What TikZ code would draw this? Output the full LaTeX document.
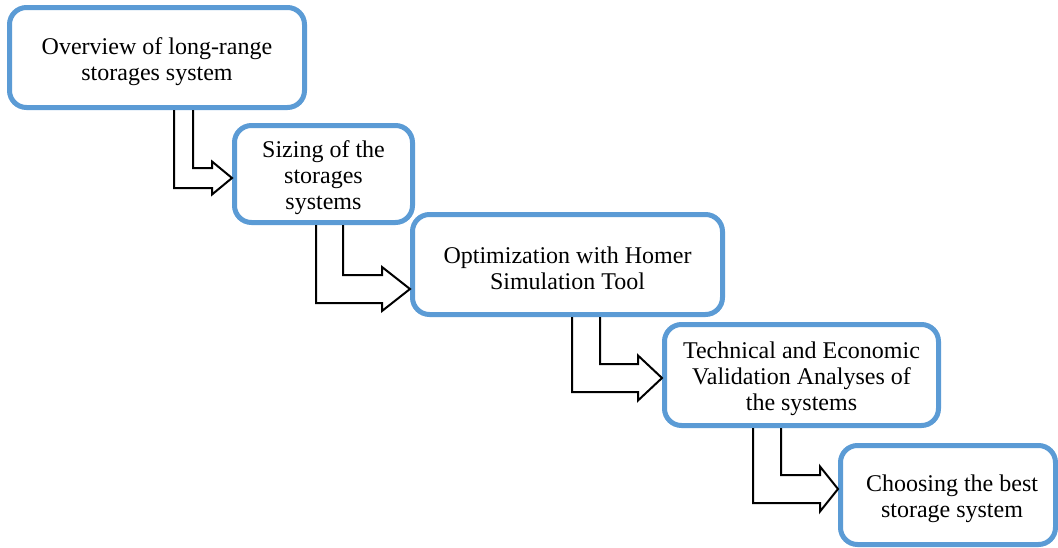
\documentclass[tikz,border=0pt]{standalone}
\usepackage{fontspec}
\setmainfont{Liberation Serif}
\usetikzlibrary{calc}

\definecolor{boxblue}{RGB}{91,155,213}

\tikzset{
    stepbox/.style={draw=boxblue, line width=5pt, fill=white, rounded corners=17pt},
    steptext/.style={align=center, inner sep=0pt, yshift=-4pt,
        font=\fontsize{24}{26}\selectfont},
    blockarrow/.style={draw=black, line width=2pt, line join=miter}
}

\begin{document}
\begin{tikzpicture}[x=1pt, y=-1pt]
    \useasboundingbox (0,0) rectangle (1058,547);
    % step boxes with absolute coordinates
    \node[stepbox, minimum width=295pt, minimum height=100pt,
        label={[steptext]center:{Overview of long-range\\storages system}}] (ov) at (157,57.5) {};
    \node[stepbox, minimum width=178pt, minimum height=97pt,
        label={[steptext]center:{Sizing of the\\storages\\systems}}] (sz) at (323.5,174) {};
    \node[stepbox, minimum width=310pt, minimum height=100pt,
        label={[steptext]center:{Optimization with Homer\\Simulation Tool}}] (op) at (567.5,264.5) {};
    \node[stepbox, minimum width=274pt, minimum height=101pt,
        label={[steptext]center:{Technical and Economic\\Validation Analyses of\\the systems}}] (te) at (801.5,375) {};
    \node[stepbox, minimum width=215pt, minimum height=99pt,
        label={[steptext, xshift=4pt]center:{Choosing the best\\storage system}}] (ch) at (948,495) {};
    % bent block arrows between the steps
    \foreach \src/\dst/\ox/\w/\s/\ty/\hh/\hl in {ov/sz/174/19/10/178/16.5/20,
        sz/op/316/27/14/289/22/28, op/te/572/28/14/378/22.5/24,
        te/ch/753/28/14/489/22.5/18}
        \draw[blockarrow] (\src.south -| \ox,0) |- ($(\dst.west |- 0,\ty)+(-\hl,\s)$)
            -- ++(0,\hh-\s) -- (\dst.west |- 0,\ty) -- ++(-\hl,-\hh) -- ++(0,\hh-\s)
            -| (\src.south -| {\ox+\w},0);
\end{tikzpicture}
\end{document}
